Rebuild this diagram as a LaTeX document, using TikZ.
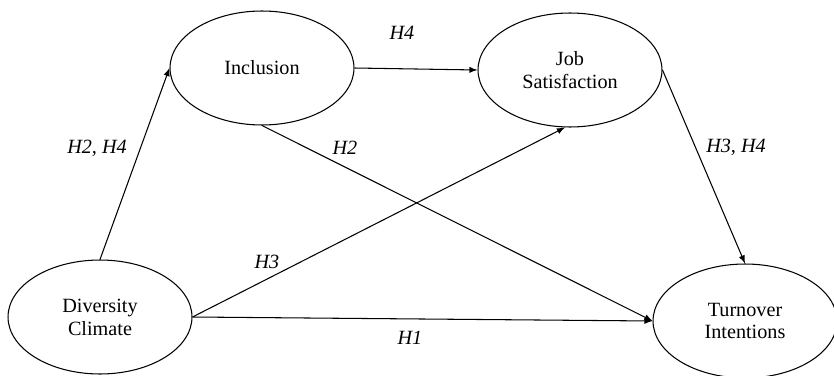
\documentclass[tikz,border=0pt]{standalone}
\usepackage{fontspec}
\setmainfont{Liberation Serif}
\usetikzlibrary{shapes.geometric}

\begin{document}
\begin{tikzpicture}
	[x=0.02cm,y=-0.02cm,every node/.style={font=\fontsize{11.5}{13}\selectfont}]
	\tikzstyle{construct} = [ellipse, draw, semithick, minimum width=3.68cm, minimum height=2.28cm, inner sep=0pt, align=center];
	\tikzstyle{edges} = [semithick, -latex];
	\tikzstyle{hyp} = [font=\fontsize{11.5}{13}\selectfont\itshape];
	\useasboundingbox (0,0) rectangle (834,375);
	
	\node[construct] (inc) at (262,68) {Inclusion};
	\node[construct] (job) at (570,70) {Job\\Satisfaction};
	\node[construct] (div) at (100,317) {Diversity\\Climate};
	\node[construct] (turn) at (745,321) {Turnover\\Intentions};
	
	\draw[edges] (div.north) -- (inc.west);
	\draw[edges] (inc.east) -- (job.west);
	\draw[edges] (inc.south) -- (turn.west);
	\draw[edges] (div.east) -- (job.265);
	\draw[edges] (div.east) -- (turn.west);
	\draw[edges] (job.east) -- (turn.north);
	
	\node[hyp] (h24) at (97,148) {H2, H4};
	\node[hyp] (h4) at (402,33) {H4};
	\node[hyp] (h2) at (345,148) {H2};
	\node[hyp] (h34) at (736,147) {H3, H4};
	\node[hyp] (h3) at (267,262) {H3};
	\node[hyp] (h1) at (410,338) {H1};
\end{tikzpicture}
\end{document}
